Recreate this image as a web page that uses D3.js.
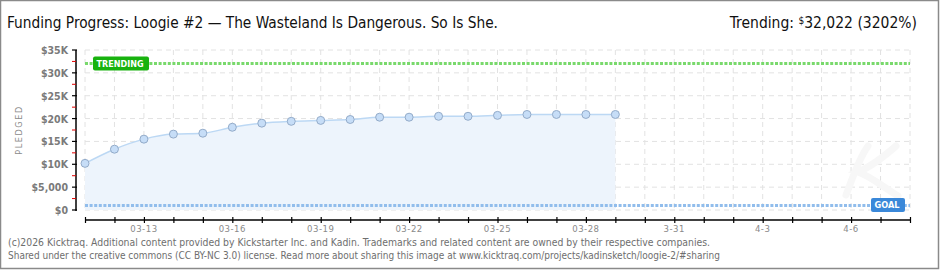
<!DOCTYPE html>
<html><head><meta charset="utf-8">
<script src="https://cdn.jsdelivr.net/npm/d3@7"></script>
<style>
html,body{margin:0;padding:0;background:#fff;}
svg{display:block;}
text{font-family:"DejaVu Sans Condensed","DejaVu Sans","Liberation Sans",sans-serif;}
</style></head>
<body>
<svg id="chart" width="940" height="270"></svg>
<script>
// ---- data ----
const dates = ["2026-03-11","2026-03-12","2026-03-13","2026-03-14","2026-03-15","2026-03-16","2026-03-17","2026-03-18","2026-03-19","2026-03-20","2026-03-21","2026-03-22","2026-03-23","2026-03-24","2026-03-25","2026-03-26","2026-03-27","2026-03-28","2026-03-29"];
const pledged = [10200,13300,15500,16600,16800,18100,19000,19400,19600,19800,20300,20300,20500,20500,20700,20900,20900,20900,20900];
const goal = 1000;
const trending = 32022;
const yTicks = [0,5000,10000,15000,20000,25000,30000,35000];
const yTickLabels = ["$0","$5,000","$10K","$15K","$20K","$25K","$30K","$35K"];
const xLabelDates = ["2026-03-13","2026-03-16","2026-03-19","2026-03-22","2026-03-25","2026-03-28","2026-03-31","2026-04-03","2026-04-06"];
const xLabels = ["03-13","03-16","03-19","03-22","03-25","03-28","3-31","4-3","4-6"];
const xDomain = ["2026-03-11","2026-04-08"];
const titleText = "Funding Progress: Loogie #2 \u2014 The Wasteland Is Dangerous. So Is She.";
const footer1 = "(c)2026 Kicktraq. Additional content provided by Kickstarter Inc. and Kadin. Trademarks and related content are owned by their respective companies.";
const footer2 = "Shared under the creative commons (CC BY-NC 3.0) license. Read more about sharing this image at www.kicktraq.com/projects/kadinsketch/loogie-2/#sharing";

const parse = d3.utcParse("%Y-%m-%d");
const svg = d3.select("#chart");

const x = d3.scaleUtc().domain(xDomain.map(parse)).range([85, 910]);
const y = d3.scaleLinear().domain([0, 35000]).range([210, 50]);

// frame
svg.append("rect").attr("x",0.5).attr("y",0.5).attr("width",938).attr("height",268)
  .attr("fill","#fff").attr("stroke","#8a8a8a").attr("stroke-width",1.5);

// title
svg.append("text").attr("x",7).attr("y",28).attr("font-size",15.5).attr("fill","#111")
  .attr("textLength",491).attr("lengthAdjust","spacingAndGlyphs").text(titleText);

const tr = svg.append("text").attr("x",917).attr("y",28).attr("text-anchor","end").attr("font-size",15.5).attr("fill","#111");
tr.append("tspan").text("Trending:  ");
tr.append("tspan").attr("font-size",10).attr("dy",-4).text("$");
tr.append("tspan").attr("dy",4).text(d3.format(",")(trending) + " (" + Math.round(trending/goal*100) + "%)");

// grid
const allDays = d3.utcDay.range(parse(xDomain[0]), d3.utcDay.offset(parse(xDomain[1]),1));
svg.append("g").selectAll("line").data(allDays).join("line")
  .attr("x1",d=>x(d)).attr("x2",d=>x(d)).attr("y1",50).attr("y2",210)
  .attr("stroke","#e2e2e2").attr("stroke-dasharray","5,4");
svg.append("g").selectAll("line").data(yTicks).join("line")
  .attr("x1",85).attr("x2",910).attr("y1",d=>y(d)).attr("y2",d=>y(d))
  .attr("stroke","#e2e2e2").attr("stroke-dasharray","5,4");

// watermark (faint logo shape)
svg.append("path")
  .attr("d","M868,146 C858,160 852,180 846,195 M896,146 C880,160 868,168 858,172 C870,176 882,186 898,196")
  .attr("fill","none").attr("stroke","#f7f7f7").attr("stroke-width",7).attr("stroke-linecap","round");

// area + line
const pts = dates.map((d,i)=>({d:parse(d), v:pledged[i]}));
const area = d3.area().x(p=>x(p.d)).y0(y(0)).y1(p=>y(p.v)).curve(d3.curveMonotoneX);
const line = d3.line().x(p=>x(p.d)).y(p=>y(p.v)).curve(d3.curveMonotoneX);
svg.append("path").datum(pts).attr("d",area).attr("fill","#edf4fc");
svg.append("path").datum(pts).attr("d",line).attr("fill","none").attr("stroke","#bcd8f4").attr("stroke-width",1.5);

// goal & trending lines
function refLine(val, color){
  svg.append("line").attr("x1",85).attr("x2",910).attr("y1",y(val)).attr("y2",y(val))
    .attr("stroke",color).attr("stroke-width",3).attr("stroke-dasharray","3,1.6");
}
refLine(goal, "#91bdec");
refLine(trending, "#79d96c");

// points
svg.append("g").selectAll("circle").data(pts).join("circle")
  .attr("cx",p=>x(p.d)).attr("cy",p=>y(p.v)).attr("r",4)
  .attr("fill","#c6ddf7").attr("stroke","#93abc9").attr("stroke-width",1);

// label badges
function badge(bx, by, w, h, fill, label, tl){
  svg.append("rect").attr("x",bx).attr("y",by).attr("width",w).attr("height",h).attr("rx",2).attr("fill",fill);
  svg.append("text").attr("x",bx+3.5).attr("y",by+h-3.5).attr("font-size",9.5).attr("font-weight","bold")
    .attr("fill","#fff").attr("textLength",tl).attr("lengthAdjust","spacingAndGlyphs").text(label);
}
badge(93, y(trending)-7, 56, 14, "#18b20e", "TRENDING", 47);
badge(871, y(goal)-7.5, 34, 14, "#3a88d9", "GOAL", 25);

// y axis
svg.append("line").attr("x1",76).attr("x2",76).attr("y1",50).attr("y2",211).attr("stroke","#000").attr("stroke-width",1.5);
const minor = d3.range(2500, 35000, 5000);
svg.append("g").selectAll("line").data(minor).join("line")
  .attr("x1",72).attr("x2",76).attr("y1",d=>y(d)).attr("y2",d=>y(d)).attr("stroke","#e00000");
svg.append("g").selectAll("line").data(yTicks).join("line")
  .attr("x1",72).attr("x2",77).attr("y1",d=>y(d)).attr("y2",d=>y(d)).attr("stroke","#000").attr("stroke-width",1.2);
svg.append("g").selectAll("text").data(yTicks).join("text")
  .attr("x",68).attr("y",d=>y(d)+4).attr("text-anchor","end").attr("font-size",10.5)
  .attr("font-weight","bold").attr("fill","#7a7a7a").text((d,i)=>yTickLabels[i]);

svg.append("text").attr("transform","translate(22,130) rotate(-90)").attr("text-anchor","middle")
  .attr("font-size",9).attr("fill","#8a8a8a").attr("letter-spacing",1.6).text("PLEDGED");

// x axis
const xAxis = d3.axisBottom(x).tickValues(allDays).tickSize(3).tickFormat("");
const gx = svg.append("g").attr("transform","translate(0,220)").call(xAxis);
gx.select(".domain").attr("d","M85,0H910").attr("stroke","#000").attr("stroke-width",1.5);
gx.selectAll(".tick line").attr("y1",-3).attr("y2",3).attr("stroke","#000").attr("stroke-width",1.2);
svg.append("g").selectAll("text").data(xLabelDates).join("text")
  .attr("x",d=>x(parse(d))).attr("y",232).attr("text-anchor","middle").attr("font-size",9.5)
  .attr("fill","#8a8a8a").attr("letter-spacing",0.5).text((d,i)=>xLabels[i]);

// footer
svg.append("text").attr("x",8).attr("y",246).attr("font-size",10).attr("fill","#6e6e6e")
  .attr("textLength",702).attr("lengthAdjust","spacingAndGlyphs").text(footer1);
svg.append("text").attr("x",8).attr("y",259).attr("font-size",10).attr("fill","#6e6e6e")
  .attr("textLength",712).attr("lengthAdjust","spacingAndGlyphs").text(footer2);
</script>
</body></html>
